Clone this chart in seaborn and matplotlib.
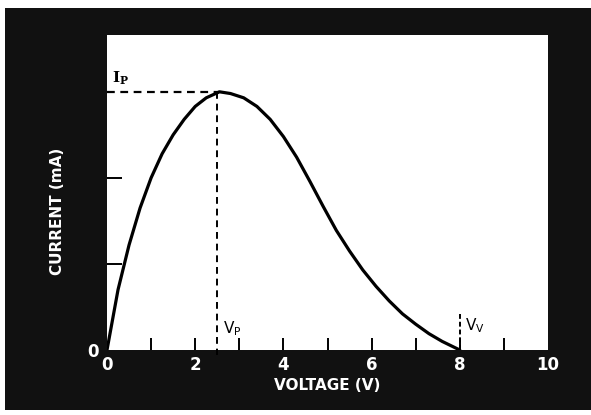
import matplotlib
matplotlib.use('Agg')
import matplotlib.pyplot as plt
import seaborn as sns
from matplotlib.patches import Rectangle

# --- data ---
voltage = [0, 0.25, 0.5, 0.75, 1.0, 1.25, 1.5, 1.75, 2.0, 2.25, 2.55,
           2.8, 3.1, 3.4, 3.7, 4.0, 4.3, 4.6, 4.9, 5.2, 5.5, 5.8, 6.1,
           6.4, 6.7, 7.0, 7.3, 7.6, 8.0]
current = [0, 0.70, 1.22, 1.65, 2.0, 2.28, 2.50, 2.68, 2.83, 2.93, 3.0,
           2.98, 2.93, 2.83, 2.68, 2.48, 2.24, 1.96, 1.67, 1.39, 1.15, 0.93, 0.74,
           0.57, 0.42, 0.30, 0.19, 0.10, 0]

peak_current = 3.0     # I_P
peak_voltage = 2.5     # V_P
valley_voltage = 8.0   # V_V

x_ticks = list(range(0, 11))
x_tick_labels = ['0', '', '2', '', '4', '', '6', '', '8', '', '10']
y_ticks = [0, 1, 2, 3]
y_tick_labels = ['0', '', '', '']

sns.set_style('white')
plt.rcParams['font.family'] = ['DejaVu Sans']

fig = plt.figure(figsize=(5.91, 4.15), dpi=100, facecolor='white')
# dark scanned border behind the plot
fig.add_artist(Rectangle((5 / 591, 5 / 415), 586 / 591, 402 / 415,
                         transform=fig.transFigure, facecolor='#111111',
                         edgecolor='none', zorder=-10))
ax = fig.add_axes([107 / 591, 65 / 415, 441 / 591, 315 / 415])
ax.set_facecolor('white')

sns.lineplot(x=voltage, y=current, sort=False, estimator=None, ax=ax,
             color='black', linewidth=2.3)
ax.lines[0].set_solid_joinstyle('round')

dash = (0, (3.5, 2.5))
ax.plot([0, peak_voltage + 0.05], [peak_current, peak_current], color='black',
        lw=1.6, linestyle=dash)
ax.plot([peak_voltage, peak_voltage], [peak_current, -0.06], color='black',
        lw=1.4, linestyle=dash, clip_on=False)
ax.plot([valley_voltage, valley_voltage], [0.42, 0.0], color='black',
        lw=1.4, linestyle=(0, (2.5, 1.5)))

ax.text(0.12, 3.06, r'$\mathregular{I_P}$', fontsize=11, family='DejaVu Serif',
        fontweight='bold', color='black', ha='left', va='bottom')
ax.text(peak_voltage + 0.12, 0.14, r'$\mathregular{V_P}$', fontsize=11,
        color='black', ha='left', va='bottom')
ax.text(valley_voltage + 0.12, 0.17, r'$\mathregular{V_V}$', fontsize=11,
        color='black', ha='left', va='bottom')

ax.set_xlim(0, 10)
ax.set_ylim(0, 3.66)
ax.set_xticks(x_ticks)
ax.set_xticklabels(x_tick_labels)
ax.set_yticks(y_ticks)
ax.set_yticklabels(y_tick_labels)
ax.tick_params(axis='x', bottom=True, direction='in', length=9, width=1.4,
               color='black', labelcolor='white', labelsize=12, pad=4)
ax.tick_params(axis='y', left=True, direction='in', length=11, width=1.4,
               color='black', labelcolor='white', labelsize=12, pad=6)
for lab in ax.get_xticklabels() + ax.get_yticklabels():
    lab.set_fontweight('bold')

# no marks at the frame corners or under the I_P line
xt = ax.xaxis.get_major_ticks()
xt[0].tick1line.set_visible(False)
xt[-1].tick1line.set_visible(False)
yt = ax.yaxis.get_major_ticks()
yt[0].tick1line.set_visible(False)
yt[-1].tick1line.set_visible(False)

for s in ax.spines.values():
    s.set_visible(False)

ax.set_xlabel('VOLTAGE (V)', color='white', fontsize=11, fontweight='bold',
              labelpad=3)
ax.set_ylabel('CURRENT (mA)', color='white', fontsize=11, fontweight='bold')
ax.yaxis.set_label_coords(-0.095, 0.44)

fig.savefig('out.png', dpi=100, facecolor=fig.get_facecolor())
